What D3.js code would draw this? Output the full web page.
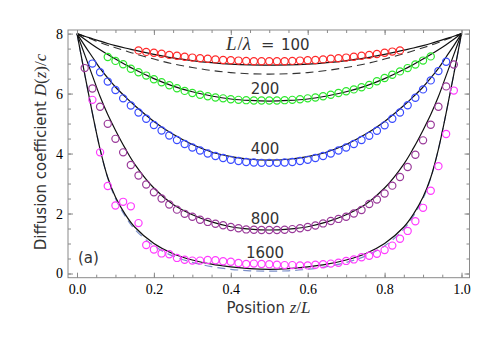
<!DOCTYPE html>
<html>
<head>
<meta charset="utf-8">
<script src="https://cdn.jsdelivr.net/npm/d3@7"></script>
<style>
  body { margin: 0; background: white; }
  svg { display: block; }
</style>
</head>
<body>
<div id="chart"></div>
<script>
// data

// theory curves, sampled in z
var zCurve = [0, 0.02, 0.04, 0.06, 0.08, 0.1, 0.125, 0.15, 0.2, 0.25, 0.3, 0.35, 0.4, 0.45, 0.5,
  0.55, 0.6, 0.65, 0.7, 0.75, 0.8, 0.85, 0.875, 0.9, 0.92, 0.94, 0.96, 0.98, 1];
var solid100 = [8, 7.91, 7.83, 7.75, 7.67, 7.6, 7.52, 7.45, 7.31, 7.19, 7.1, 7.03, 6.98, 6.955, 6.95,
  6.955, 6.98, 7.03, 7.1, 7.19, 7.31, 7.45, 7.52, 7.6, 7.67, 7.75, 7.83, 7.91, 8];
var dashed100 = [8, 7.9, 7.8, 7.7, 7.61, 7.53, 7.43, 7.33, 7.15, 6.99, 6.87, 6.77, 6.7, 6.66, 6.65,
  6.66, 6.7, 6.77, 6.87, 6.99, 7.15, 7.33, 7.43, 7.53, 7.61, 7.7, 7.8, 7.9, 8];
var solid200 = [8, 7.81, 7.63, 7.46, 7.3, 7.15, 6.97, 6.8, 6.5, 6.25, 6.06, 5.92, 5.82, 5.77, 5.75,
  5.77, 5.82, 5.92, 6.06, 6.25, 6.5, 6.8, 6.97, 7.15, 7.3, 7.46, 7.63, 7.81, 8];
var solid400 = [8, 7.6, 7.22, 6.84, 6.52, 6.22, 5.9, 5.6, 5.07, 4.64, 4.3, 4.05, 3.9, 3.81, 3.78,
  3.81, 3.9, 4.05, 4.3, 4.64, 5.07, 5.6, 5.9, 6.22, 6.52, 6.84, 7.22, 7.6, 8];
var solid800 = [8, 7.3, 6.6, 5.9, 5.3, 4.78, 4.18, 3.65, 2.85, 2.3, 1.96, 1.72, 1.56, 1.48, 1.45,
  1.48, 1.56, 1.72, 1.96, 2.3, 2.85, 3.65, 4.18, 4.78, 5.3, 5.9, 6.6, 7.3, 8];
var solid1600 = [8, 6.65, 5.35, 4.15, 3.2, 2.55, 1.98, 1.55, 1.0, 0.66, 0.45, 0.31, 0.22, 0.16, 0.14,
  0.16, 0.22, 0.31, 0.45, 0.66, 1.0, 1.55, 1.98, 2.55, 3.2, 4.15, 5.35, 6.65, 8];
var dashed1600 = [8, 6.65, 5.35, 4.15, 3.18, 2.5, 1.92, 1.48, 0.92, 0.58, 0.37, 0.23, 0.14, 0.09, 0.08,
  0.09, 0.14, 0.23, 0.37, 0.58, 0.92, 1.48, 1.92, 2.5, 3.18, 4.15, 5.35, 6.65, 8];

// simulation points (open circles), z step 0.02
var zRed = d3.range(8, 43).map(function(i){ return i/50; });     // 0.16 .. 0.84
var red = [7.44, 7.39, 7.36, 7.33, 7.29, 7.26, 7.23, 7.2, 7.18, 7.16, 7.14, 7.12, 7.11, 7.1, 7.09, 7.08, 7.08, 7.08,
  7.08, 7.08, 7.09, 7.1, 7.11, 7.12, 7.14, 7.16, 7.18, 7.2, 7.23, 7.26, 7.29, 7.32, 7.36, 7.4, 7.44];
var zGreen = d3.range(4, 47).map(function(i){ return i/50; });   // 0.08 .. 0.92
var green = [7.22, 7.09, 6.98, 6.83, 6.71, 6.6, 6.48, 6.38, 6.28, 6.18, 6.09, 6.02, 5.96, 5.91, 5.87, 5.84, 5.81, 5.79,
  5.78, 5.77, 5.77, 5.77, 5.77, 5.78, 5.79, 5.81, 5.84, 5.87, 5.91, 5.96, 6.02, 6.08, 6.14, 6.21, 6.29, 6.41, 6.52,
  6.63, 6.74, 6.85, 6.97, 7.1, 7.24];
var zBlue = d3.range(2, 49).map(function(i){ return i/50; });    // 0.04 .. 0.96
var blue = [7.0, 6.71, 6.4, 6.12, 5.84, 5.6, 5.37, 5.16, 4.95, 4.77, 4.6, 4.45, 4.32, 4.2, 4.1, 4.0, 3.92, 3.85, 3.79,
  3.75, 3.72, 3.7, 3.69, 3.69, 3.69, 3.7, 3.72, 3.75, 3.79, 3.85, 3.92, 4.0, 4.1, 4.2, 4.32, 4.45, 4.59, 4.76, 4.94,
  5.16, 5.37, 5.61, 5.86, 6.14, 6.44, 6.75, 7.06];
var zPurple = d3.range(1, 50).map(function(i){ return i/50; });  // 0.02 .. 0.98
var purple = [6.85, 6.17, 5.56, 4.99, 4.49, 4.04, 3.62, 3.27, 2.97, 2.71, 2.5, 2.3, 2.13, 1.99, 1.89, 1.79, 1.72, 1.66,
  1.61, 1.55, 1.51, 1.47, 1.46, 1.45, 1.45, 1.45, 1.46, 1.48, 1.51, 1.55, 1.6, 1.67, 1.75, 1.82, 1.89, 2.0, 2.12,
  2.32, 2.47, 2.67, 2.93, 3.22, 3.55, 3.96, 4.44, 4.96, 5.56, 6.24, 6.97];
var zMagenta = d3.range(2, 50).map(function(i){ return i/50; }); // 0.04 .. 0.98
var magenta = [5.79, 4.04, 2.92, 2.27, 2.39, 2.24, 1.68, 0.95, 0.8, 0.67, 0.64, 0.52, 0.46, 0.43, 0.43, 0.45, 0.44,
  0.41, 0.39, 0.35, 0.32, 0.33, 0.32, 0.31, 0.29, 0.28, 0.28, 0.27, 0.27, 0.29, 0.31, 0.33, 0.36, 0.42, 0.47, 0.54,
  0.59, 0.66, 0.78, 0.93, 1.16, 1.42, 1.74, 2.19, 2.76, 3.58, 4.65, 6.1];

// ticks
var xMajor = [0, 0.2, 0.4, 0.6, 0.8, 1.0];
var xMinor = d3.range(0, 21).map(function(i){ return i*0.05; });
var yMajor = [0, 2, 4, 6, 8];
var yMinor = d3.range(0, 17).map(function(i){ return i*0.5; });

// curve labels
var curveLabels = ["200", "400", "800", "1600"];
var curveLabelY = [6.0, 4.0, 1.65, 0.52];

var WIDTH = 485, HEIGHT = 364;
var FRAME = "#8a8a8a";

var svg = d3.select("#chart").append("svg")
  .attr("width", WIDTH)
  .attr("height", HEIGHT);

// scales
var x = d3.scaleLinear().domain([-0.0234, 1.0208]).range([68, 469.5]);
var y = d3.scaleLinear().domain([-0.14, 8.12]).range([277.7, 30]);

var line = d3.line()
  .x(function(d){ return x(d[0]); })
  .y(function(d){ return y(d[1]); })
  .curve(d3.curveCatmullRom.alpha(0.5));

svg.append("clipPath").attr("id", "clip")
  .append("rect")
  .attr("x", 68).attr("y", 30)
  .attr("width", 469.5 - 68).attr("height", 277.7 - 30);

var plot = svg.append("g").attr("clip-path", "url(#clip)");

// dashed curves
plot.append("path")
  .datum(d3.zip(zCurve, dashed1600))
  .attr("d", line)
  .attr("fill", "none")
  .attr("stroke", "#7b8fc9")
  .attr("stroke-width", 1.2)
  .attr("stroke-dasharray", "8,5");

plot.append("path")
  .datum(d3.zip(zCurve, dashed100))
  .attr("d", line)
  .attr("fill", "none")
  .attr("stroke", "#333")
  .attr("stroke-width", 1.1)
  .attr("stroke-dasharray", "8,5");

// solid theory curves
[solid100, solid200, solid400, solid800, solid1600].forEach(function(vals){
  plot.append("path")
    .datum(d3.zip(zCurve, vals))
    .attr("d", line)
    .attr("fill", "none")
    .attr("stroke", "#111")
    .attr("stroke-width", 1.2);
});

// the simulation circles
var sets = [
  [zRed, red, "#ff2a2a"],
  [zGreen, green, "#2ee82e"],
  [zBlue, blue, "#3a4cff"],
  [zPurple, purple, "#9a3a9a"],
  [zMagenta, magenta, "#ff3cff"]
];
sets.forEach(function(s){
  plot.append("g").selectAll("circle")
    .data(d3.zip(s[0], s[1]))
    .enter().append("circle")
    .attr("cx", function(d){ return x(d[0]); })
    .attr("cy", function(d){ return y(d[1]); })
    .attr("r", 3.6)
    .attr("fill", "none")
    .attr("stroke", s[2])
    .attr("stroke-width", 1.2);
});

// axes, ticks inward on all four sides
function tickAxis(axis, vals, size){
  return axis.tickValues(vals).tickSize(-size).tickFormat("");
}
var axes = [
  [d3.axisBottom(x), "translate(0,277.7)", xMinor, 3],
  [d3.axisBottom(x), "translate(0,277.7)", xMajor, 5],
  [d3.axisTop(x), "translate(0,30)", xMinor, 3],
  [d3.axisTop(x), "translate(0,30)", xMajor, 5],
  [d3.axisLeft(y), "translate(68,0)", yMinor, 3],
  [d3.axisLeft(y), "translate(68,0)", yMajor, 5],
  [d3.axisRight(y), "translate(469.5,0)", yMinor, 3],
  [d3.axisRight(y), "translate(469.5,0)", yMajor, 5]
];
axes.forEach(function(a){
  var g = svg.append("g").attr("transform", a[1]).call(tickAxis(a[0], a[2], a[3]));
  g.select(".domain").remove();
  g.selectAll("line").attr("stroke", FRAME);
});

// tick labels
var xl = svg.append("g").attr("transform", "translate(0,277.7)")
  .call(d3.axisBottom(x).tickValues(xMajor).tickSize(0).tickPadding(6).tickFormat(d3.format(".1f")));
xl.select(".domain").remove();
xl.selectAll("text")
  .attr("font-family", "'Liberation Serif', 'Times New Roman', serif")
  .attr("font-size", 14)
  .attr("fill", "#000");

var yl = svg.append("g").attr("transform", "translate(68,0)")
  .call(d3.axisLeft(y).tickValues(yMajor).tickSize(0).tickPadding(5).tickFormat(d3.format("d")));
yl.select(".domain").remove();
yl.selectAll("text")
  .attr("font-family", "'Liberation Serif', 'Times New Roman', serif")
  .attr("font-size", 14)
  .attr("fill", "#000");

// frame
svg.append("rect")
  .attr("x", 68).attr("y", 30)
  .attr("width", 469.5 - 68).attr("height", 277.7 - 30)
  .attr("fill", "none")
  .attr("stroke", FRAME)
  .attr("stroke-width", 1);

var SANS = "'DejaVu Sans', sans-serif";
var MATH = "'Liberation Serif', 'DejaVu Serif', serif";

// axis titles
var xt = svg.append("text")
  .attr("x", 268.5).attr("y", 313)
  .attr("text-anchor", "middle")
  .attr("font-family", SANS)
  .attr("font-size", 15)
  .attr("fill", "#333");
xt.append("tspan").text("Position ");
xt.append("tspan").attr("font-family", MATH).attr("font-style", "italic").attr("font-size", 17).text("z");
xt.append("tspan").attr("font-family", MATH).attr("font-size", 17).text("/");
xt.append("tspan").attr("font-family", MATH).attr("font-style", "italic").attr("font-size", 17).text("L");

var yt = svg.append("text")
  .attr("transform", "translate(46,152) rotate(-90)")
  .attr("text-anchor", "middle")
  .attr("font-family", SANS)
  .attr("font-size", 15)
  .attr("fill", "#333");
yt.append("tspan").text("Diffusion coefficient ");
yt.append("tspan").attr("font-family", MATH).attr("font-style", "italic").attr("font-size", 17).text("D");
yt.append("tspan").attr("font-family", MATH).attr("font-size", 17).text("(");
yt.append("tspan").attr("font-family", MATH).attr("font-style", "italic").attr("font-size", 17).text("z");
yt.append("tspan").attr("font-family", MATH).attr("font-size", 17).text(")/");
yt.append("tspan").attr("font-family", MATH).attr("font-style", "italic").attr("font-size", 17).text("c");

// curve labels
var lt = svg.append("text")
  .attr("x", 226).attr("y", y(7.45))
  .attr("font-family", SANS)
  .attr("font-size", 15)
  .attr("fill", "#333");
lt.append("tspan").attr("font-family", MATH).attr("font-style", "italic").attr("font-size", 19).text("L");
lt.append("tspan").attr("font-family", MATH).attr("font-size", 19).attr("dx", 1).text("/");
lt.append("tspan").attr("font-family", MATH).attr("font-style", "italic").attr("font-size", 19).text("λ");
lt.append("tspan").attr("x", 261).attr("font-size", 16).text("=");
lt.append("tspan").attr("x", 281).text("100");

svg.append("g").selectAll("text")
  .data(curveLabels)
  .enter().append("text")
  .attr("x", 265)
  .attr("y", function(d, i){ return y(curveLabelY[i]); })
  .attr("text-anchor", "middle")
  .attr("font-family", SANS)
  .attr("font-size", 15)
  .attr("fill", "#333")
  .text(function(d){ return d; });

svg.append("text")
  .attr("x", 78).attr("y", 263)
  .attr("font-family", SANS)
  .attr("font-size", 15)
  .attr("fill", "#333")
  .text("(a)");
</script>
</body>
</html>
